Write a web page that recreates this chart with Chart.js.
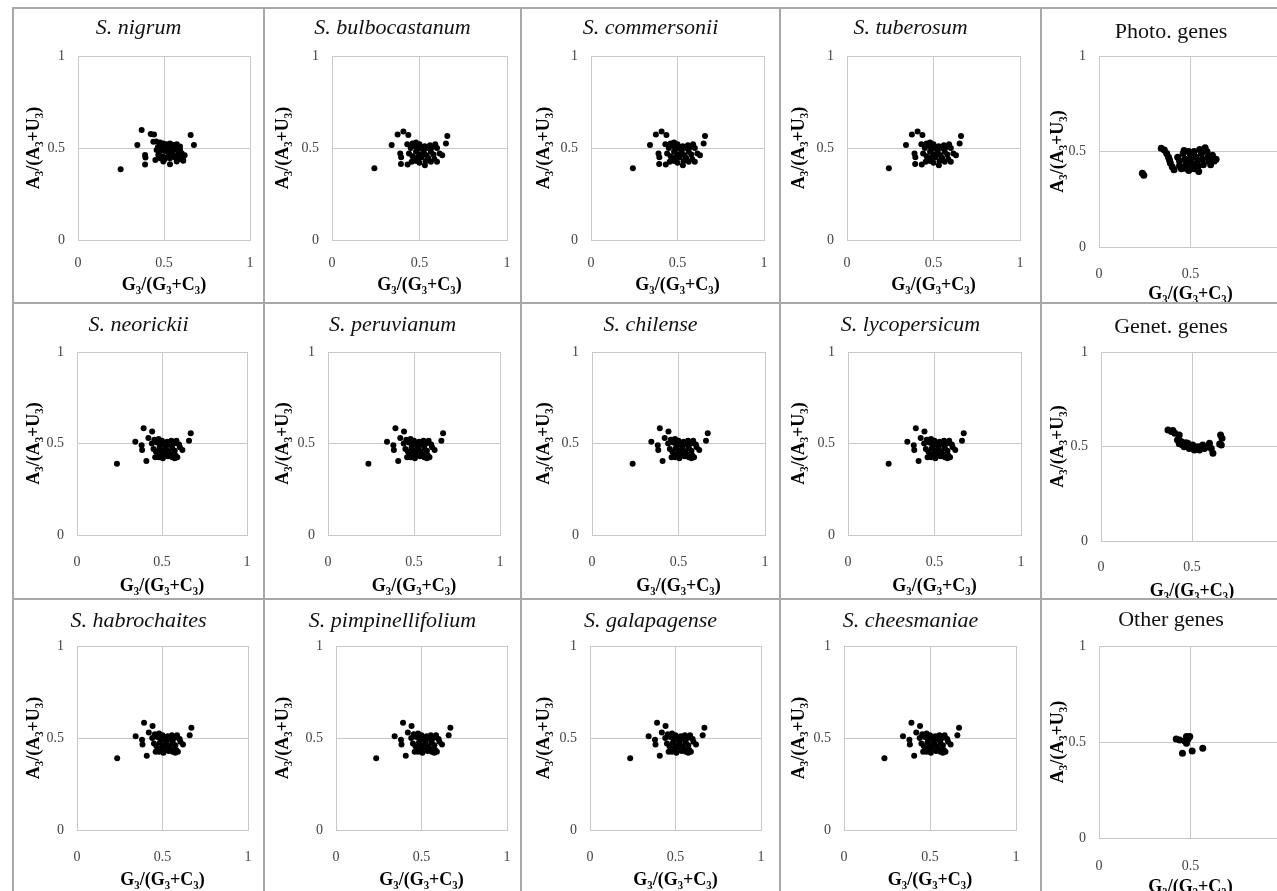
<!DOCTYPE html>
<html>
<head>
<meta charset="utf-8">
<script src="https://cdn.jsdelivr.net/npm/chart.js@4.4.1/dist/chart.umd.min.js"></script>
<style>
  html, body { margin: 0; padding: 0; background: #fff; overflow: hidden; }
  #page { position: relative; width: 1277px; height: 891px; overflow: hidden; }
  .vl { position: absolute; width: 2px; background: #a8a8a8; }
  .hl { position: absolute; height: 2px; background: #a8a8a8; }
  canvas { position: absolute; }
</style>
</head>
<body>
<div id="page"></div>
<script>
// ---- data ----
const tickValues = [0, 0.5, 1];
const xTitle = 'G\u2083/(G\u2083+C\u2083)';
const yTitle = 'A\u2083/(A\u2083+U\u2083)';

const panelTitles = [
  'S. nigrum', 'S. bulbocastanum', 'S. commersonii', 'S. tuberosum', 'Photo. genes',
  'S. neorickii', 'S. peruvianum', 'S. chilense', 'S. lycopersicum', 'Genet. genes',
  'S. habrochaites', 'S. pimpinellifolium', 'S. galapagense', 'S. cheesmaniae', 'Other genes'
];

const nigrumPts = [
  [0.248,0.384],[0.345,0.516],[0.370,0.598],[0.423,0.576],[0.442,0.574],[0.655,0.571],[0.674,0.516],
  [0.390,0.462],[0.392,0.448],[0.390,0.411],
  [0.438,0.534],[0.455,0.536],[0.477,0.530],[0.496,0.525],[0.515,0.520],[0.535,0.525],[0.554,0.516],[0.574,0.520],[0.593,0.508],
  [0.477,0.507],[0.496,0.498],[0.515,0.498],[0.535,0.507],[0.554,0.498],[0.465,0.505],
  [0.457,0.489],[0.477,0.480],[0.505,0.484],[0.525,0.478],[0.545,0.480],[0.574,0.489],[0.593,0.489],[0.603,0.471],
  [0.467,0.462],[0.496,0.453],[0.525,0.457],[0.554,0.462],[0.583,0.462],[0.612,0.453],[0.620,0.460],
  [0.477,0.444],[0.505,0.440],[0.535,0.444],[0.564,0.448],[0.593,0.440],[0.612,0.431],
  [0.450,0.435],[0.496,0.426],[0.535,0.412],[0.574,0.426]
];

const potatoPts = [
  [0.242,0.390],[0.341,0.516],[0.375,0.574],[0.408,0.589],[0.436,0.571],[0.659,0.565],[0.651,0.525],
  [0.394,0.413],[0.432,0.411],[0.531,0.406],[0.390,0.470],[0.395,0.450],
  [0.430,0.520],[0.450,0.500],[0.460,0.525],[0.475,0.510],[0.480,0.530],[0.490,0.495],[0.500,0.520],
  [0.510,0.505],[0.520,0.490],[0.530,0.510],[0.545,0.500],[0.560,0.515],[0.575,0.505],[0.590,0.520],[0.600,0.500],
  [0.440,0.470],[0.460,0.455],[0.470,0.440],[0.480,0.480],[0.500,0.465],[0.510,0.450],[0.525,0.475],
  [0.540,0.460],[0.550,0.445],[0.565,0.480],[0.580,0.465],[0.585,0.440],[0.600,0.425],[0.615,0.470],[0.630,0.460],
  [0.455,0.425],[0.480,0.430],[0.500,0.420],[0.565,0.425],[0.490,0.450],[0.535,0.430]
];

const tomatoPts = [
  [0.235,0.390],[0.343,0.510],[0.380,0.490],[0.392,0.583],[0.442,0.565],[0.669,0.556],[0.659,0.515],
  [0.408,0.404],[0.383,0.464],[0.620,0.464],[0.420,0.530],
  [0.440,0.500],[0.455,0.520],[0.470,0.505],[0.480,0.525],[0.490,0.490],[0.500,0.515],[0.510,0.500],
  [0.520,0.485],[0.530,0.510],[0.545,0.495],[0.555,0.515],[0.570,0.500],[0.585,0.515],[0.600,0.495],
  [0.450,0.470],[0.465,0.455],[0.475,0.440],[0.485,0.475],[0.500,0.460],[0.510,0.445],[0.525,0.470],
  [0.540,0.455],[0.550,0.440],[0.560,0.475],[0.575,0.460],[0.580,0.435],[0.590,0.425],[0.605,0.480],
  [0.460,0.425],[0.480,0.425],[0.505,0.420],[0.560,0.425],[0.495,0.445],[0.535,0.430],[0.575,0.420]
];

const photoPts = [
  [0.237,0.386],[0.245,0.376],
  [0.340,0.517],[0.357,0.508],[0.370,0.490],[0.380,0.470],[0.385,0.455],[0.390,0.440],[0.400,0.420],[0.410,0.405],
  [0.430,0.470],[0.440,0.450],[0.440,0.425],[0.450,0.410],[0.460,0.490],[0.465,0.505],[0.470,0.460],[0.475,0.430],[0.480,0.410],
  [0.490,0.500],[0.500,0.480],[0.500,0.450],[0.510,0.430],[0.520,0.410],[0.520,0.500],[0.530,0.470],[0.535,0.440],[0.540,0.420],
  [0.550,0.510],[0.560,0.490],[0.565,0.460],[0.570,0.430],[0.580,0.520],[0.590,0.500],[0.595,0.470],[0.600,0.450],
  [0.610,0.430],[0.620,0.460],[0.630,0.450],[0.640,0.460],[0.620,0.480],[0.545,0.395],[0.490,0.400]
];

const genetPts = [
  [0.368,0.587],[0.387,0.579],[0.395,0.585],[0.406,0.570],[0.430,0.561],[0.420,0.534],[0.440,0.526],[0.448,0.508],
  [0.457,0.499],[0.476,0.517],[0.485,0.490],[0.495,0.500],[0.504,0.508],[0.513,0.481],[0.522,0.495],[0.531,0.499],
  [0.541,0.481],[0.550,0.500],[0.559,0.508],[0.568,0.490],[0.578,0.499],[0.596,0.517],[0.606,0.490],[0.615,0.464],
  [0.657,0.561],[0.665,0.543],[0.652,0.513],[0.661,0.508],[0.465,0.520],[0.430,0.515]
];

const otherPts = [
  [0.422,0.516],[0.441,0.510],[0.478,0.528],[0.496,0.528],[0.487,0.516],[0.469,0.505],[0.478,0.493],
  [0.456,0.441],[0.509,0.453],[0.567,0.467]
];

const panelData = [
  nigrumPts, potatoPts, potatoPts, potatoPts, photoPts,
  tomatoPts, tomatoPts, tomatoPts, tomatoPts, genetPts,
  tomatoPts, tomatoPts, tomatoPts, tomatoPts, otherPts
];

// ---- layout of the panel grid (page pixels) ----
const colX = [12, 263, 520, 779, 1040, 1300];
const rowY = [7, 302, 598, 891];
const plotBox = [
  [[78,56,250,240],[332,56,507,240],[591,56,764,240],[847,56,1020,240],[1099,56,1282,247]],
  [[77,352,247,535],[328,352,500,535],[592,352,765,535],[848,352,1021,535],[1101,352,1283,541]],
  [[77,646,248,830],[336,646,507,830],[590,646,761,830],[844,646,1016,830],[1099,646,1282,838]]
];
const titleY = [[28,32],[325,327],[621,620]];
const tickY  = [[261,272],[560,565],[855,864]];
const xTitleY = [[285,294],[586,591],[880,887]];
const yTitleX = [34, 283, 544, 799, 1058];

const serif = "'Liberation Serif', 'Times New Roman', serif";
const page = document.getElementById('page');

// divider lines
colX.slice(0, 5).forEach(x => {
  const d = document.createElement('div');
  d.className = 'vl';
  d.style.left = x + 'px'; d.style.top = rowY[0] + 'px'; d.style.height = (891 - rowY[0]) + 'px';
  page.appendChild(d);
});
rowY.slice(0, 3).forEach(y => {
  const d = document.createElement('div');
  d.className = 'hl';
  d.style.left = colX[0] + 'px'; d.style.top = y + 'px'; d.style.width = (1277 - colX[0]) + 'px';
  page.appendChild(d);
});

function makePanel(idx) {
  const row = Math.floor(idx / 5), col = idx % 5;
  const isGroup = col === 4;
  const [L, T, R, B] = plotBox[row][col];
  const cx = colX[col] + 2, cy = rowY[row] + 2;
  const cw = colX[col + 1] - cx, ch = rowY[row + 1] - cy;

  const canvas = document.createElement('canvas');
  canvas.width = cw; canvas.height = ch;
  canvas.style.left = cx + 'px'; canvas.style.top = cy + 'px';
  page.appendChild(canvas);

  const titleSize = 22;
  const th = titleSize * 1.2;
  const ty = titleY[row][isGroup ? 1 : 0];
  const tky = tickY[row][isGroup ? 1 : 0];
  const xty = xTitleY[row][isGroup ? 1 : 0];
  const axisSize = 18;
  const ah = axisSize * 1.2 / 2;
  const tickFont = { family: serif, size: 14 };
  const axisFont = { family: serif, size: axisSize, weight: 'bold', lineHeight: 1.2 };
  const gridColor = '#c8c8c8';

  new Chart(canvas, {
    type: 'scatter',
    data: {
      datasets: [{
        data: panelData[idx].map(p => ({ x: p[0], y: p[1] })),
        backgroundColor: '#000',
        borderWidth: 0,
        pointRadius: isGroup ? 3.5 : 3,
        pointHoverRadius: 3
      }]
    },
    options: {
      responsive: false,
      animation: false,
      events: [],
      layout: { padding: 0 },
      plugins: {
        legend: { display: false },
        tooltip: { enabled: false },
        title: {
          display: true,
          text: panelTitles[idx],
          color: '#111',
          font: { family: serif, size: titleSize, style: isGroup ? 'normal' : 'italic', weight: 'normal', lineHeight: 1.2 },
          padding: { top: ty - cy - th / 2, bottom: T - ty - th / 2 }
        }
      },
      scales: {
        x: {
          type: 'linear', min: 0, max: 1,
          afterBuildTicks: s => { s.ticks = tickValues.map(v => ({ value: v })); },
          afterFit: s => { s.height = cy + ch - B; },
          // invisible tick marks push the labels down without widening the side padding
          grid: { color: gridColor, drawTicks: true, tickLength: tky - B - 6, tickColor: 'rgba(0,0,0,0)' },
          border: { color: gridColor },
          ticks: { font: tickFont, color: '#444', padding: 0, maxRotation: 0,
                   callback: v => String(v) },
          title: { display: true, text: xTitle, color: '#000', font: axisFont,
                   padding: { top: 0, bottom: cy + ch - xty - ah } }
        },
        y: {
          type: 'linear', min: 0, max: 1,
          afterBuildTicks: s => { s.ticks = tickValues.map(v => ({ value: v })); },
          afterFit: s => { s.width = L - cx; },
          grid: { color: gridColor, drawTicks: false },
          border: { color: gridColor },
          ticks: { font: tickFont, color: '#444', padding: 13, callback: v => String(v) },
          title: { display: true, text: yTitle, color: '#000', font: axisFont,
                   padding: { top: yTitleX[col] - cx - ah, bottom: 0 } }
        },
        // empty right-hand axis: keeps the right margin so the title stays centred in the cell
        spacer: {
          type: 'linear', position: 'right', display: true,
          grid: { display: false }, border: { display: false }, ticks: { display: false },
          afterFit: s => { s.width = cx + cw - R; }
        }
      }
    }
  });
}

panelTitles.forEach((t, i) => makePanel(i));
</script>
</body>
</html>
